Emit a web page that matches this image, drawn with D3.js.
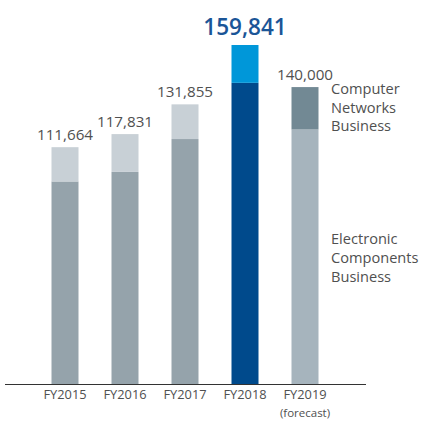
<!DOCTYPE html>
<html><head><meta charset="utf-8">
<script src="https://cdn.jsdelivr.net/npm/d3@7"></script>
<style>
html,body{margin:0;padding:0;background:#fff;}
text{font-family:"Open Sans","Noto Sans",sans-serif;}
</style></head>
<body><svg id="c" width="423" height="421"></svg>
<script>
const categories = ["FY2015","FY2016","FY2017","FY2018","FY2019"];
const electronic = [95500, 100000, 115500, 142000, 120000];
const totals = [111664, 117831, 131855, 159841, 140000];
const networks = totals.map((t,i)=>t-electronic[i]);
const totalLabels = ["111,664","117,831","131,855","159,841","140,000"];
const bottomColors = ["#95a3ab","#95a3ab","#95a3ab","#004a8c","#a6b4bd"];
const topColors = ["#c8d0d6","#c8d0d6","#c8d0d6","#0097d9","#728994"];

const svg = d3.select("#c");
const x = d3.scaleBand().domain(categories).range([35, 335]).paddingInner(0.55).paddingOuter(0.275);
const y = d3.scaleLinear().domain([0, 159841]).range([384, 45]);

const g = svg.append("g");
categories.forEach((c,i)=>{
  g.append("rect").attr("x", x(c)).attr("width", x.bandwidth())
    .attr("y", y(electronic[i])).attr("height", y(0)-y(electronic[i])).attr("fill", bottomColors[i]);
  g.append("rect").attr("x", x(c)).attr("width", x.bandwidth())
    .attr("y", y(totals[i])).attr("height", y(electronic[i])-y(totals[i])).attr("fill", topColors[i]);
  const hl = i===3;
  g.append("text").attr("x", x(c)+x.bandwidth()/2).attr("y", y(totals[i]) - (hl?10:7))
    .attr("text-anchor","middle")
    .attr("font-size", hl?22.5:15.2)
    .attr("font-weight", hl?600:400)
    .attr("fill", hl?"#1b5597":"#505050")
    .text(totalLabels[i]);
});

svg.append("line").attr("x1",5).attr("x2",366).attr("y1",384.5).attr("y2",384.5)
  .attr("stroke","#333").attr("stroke-width",1);

const axis = d3.axisBottom(x).tickSize(0).tickPadding(6);
const ag = svg.append("g").attr("transform","translate(0,384)").call(axis);
ag.select(".domain").remove();
ag.selectAll("text").attr("font-size",12.8).attr("fill","#505050").attr("font-family","'Open Sans','Noto Sans',sans-serif");
svg.append("text").attr("x", x("FY2019")+x.bandwidth()/2).attr("y",417)
  .attr("text-anchor","middle").attr("font-size",11.5).attr("fill","#505050").text("(forecast)");

const legendNet = ["Computer","Networks","Business"];
const legendEl = ["Electronic","Components","Business"];
legendNet.forEach((t,i)=>svg.append("text").attr("x",331).attr("y",94+i*18.5)
  .attr("font-size",14.6).attr("fill","#505050").text(t));
legendEl.forEach((t,i)=>svg.append("text").attr("x",331).attr("y",244+i*19)
  .attr("font-size",14.6).attr("fill","#505050").text(t));
</script></body></html>
